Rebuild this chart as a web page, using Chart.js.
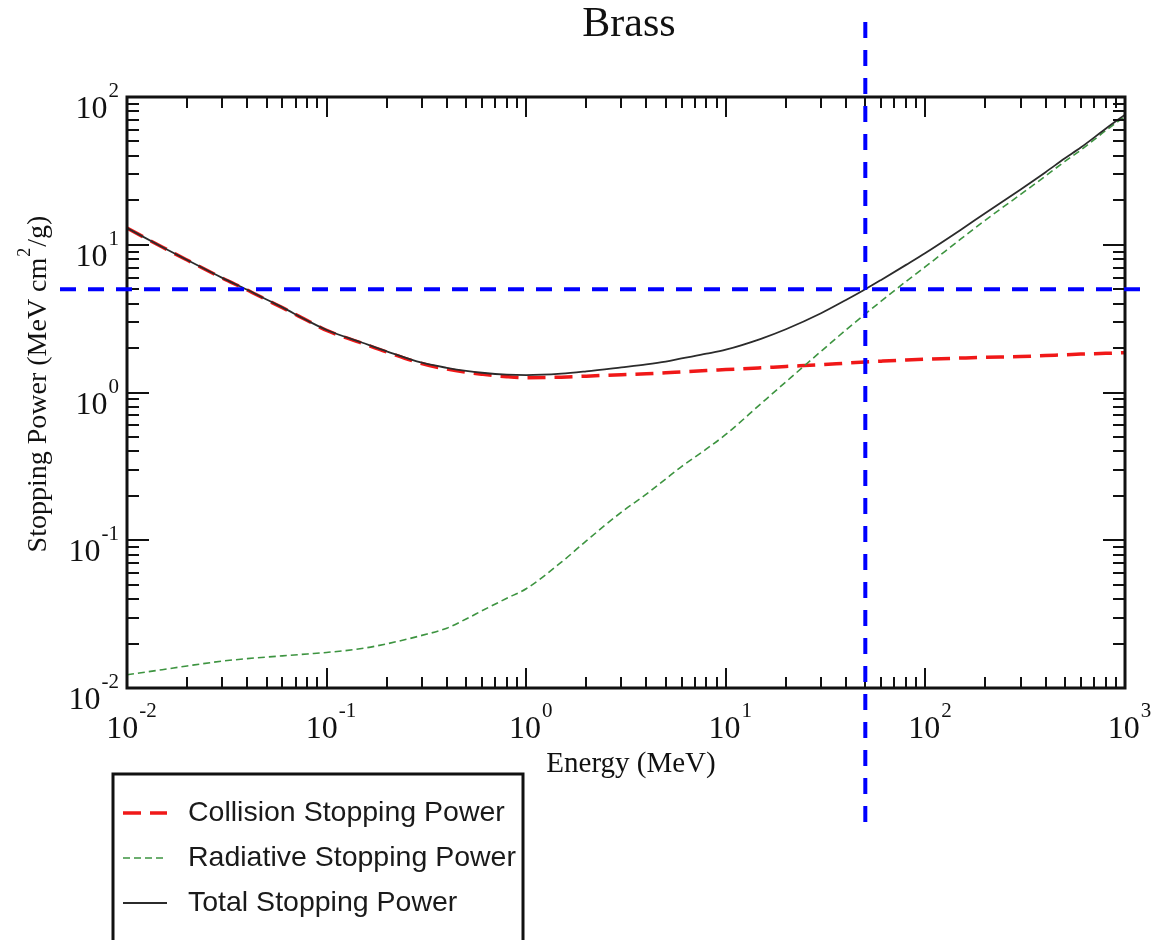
<!DOCTYPE html>
<html>
<head>
<meta charset="utf-8">
<script src="https://cdn.jsdelivr.net/npm/chart.js@4/dist/chart.umd.min.js"></script>
<style>
  body { margin:0; background:#fff; }
  canvas { display:block; }
</style>
</head>
<body>
<canvas id="spChart" width="1151" height="940"></canvas>
<script>
// energies (MeV) and stopping powers (MeV cm2/g)
const energy = [0.01,0.015,0.02,0.03,0.04,0.05,0.06,0.08,0.1,0.15,0.2,0.3,0.4,0.5,0.6,0.8,
    1,1.5,2,3,4,5,6,8,10,15,20,30,40,50,60,80,100,150,200,300,400,500,600,800,1000];
const collision = [12.97,9.65,7.88,5.95,4.94,4.24,3.75,3.07,2.63,2.16,1.88,1.57,1.44,1.37,1.33,1.28,
    1.26,1.27,1.29,1.32,1.34,1.36,1.38,1.41,1.43,1.47,1.50,1.54,1.58,1.61,1.63,1.66,1.68,1.71,1.73,1.75,1.78,1.80,1.82,1.84,1.86];
const radiative = [0.0123,0.0133,0.0141,0.0152,0.0158,0.0162,0.0165,0.0170,0.0174,0.0185,0.0199,0.0227,0.0254,0.0293,0.0333,0.0405,
    0.047,0.071,0.099,0.155,0.205,0.26,0.315,0.415,0.52,0.84,1.18,1.9,2.65,3.4,4.15,5.65,7.1,10.9,14.7,21.9,29.2,36.7,43.7,59.2,74.1];
const total = [12.98,9.66,7.89,5.97,4.96,4.26,3.77,3.07,2.65,2.18,1.90,1.59,1.47,1.40,1.36,1.32,
    1.31,1.34,1.39,1.48,1.55,1.62,1.70,1.83,1.95,2.31,2.68,3.44,4.23,5.0,5.78,7.31,8.8,12.6,16.4,23.7,31.0,38.5,45.5,61,76];

const xDecades = [-2,-1,0,1,2,3];
const yDecades = [-2,-1,0,1,2];
const markerEnergy = 50;   // blue vertical guide
const markerStopping = 5;  // blue horizontal guide

const seriesNames = ['Collision Stopping Power','Radiative Stopping Power','Total Stopping Power'];

const pts = arr => arr.map((v,i)=>({x:energy[i], y:v}));

const SERIF = '"Liberation Serif", "Times New Roman", serif';
const SANS = '"Liberation Sans", Arial, sans-serif';

function drawPow(ctx, exp, x, baseY, align, sz){
    // "10" with a raised exponent
    ctx.font = sz+'px '+SERIF;
    const w1 = ctx.measureText('10').width;
    const supSz = Math.round(sz*0.65);
    ctx.font = supSz+'px '+SERIF;
    const w2 = ctx.measureText(String(exp)).width;
    let left = x;
    if(align==='center') left = x - (w1+w2)/2;
    else if(align==='right') left = x - (w1+w2);
    ctx.textAlign = 'left';
    ctx.textBaseline = 'alphabetic';
    ctx.font = sz+'px '+SERIF;
    ctx.fillText('10', left, baseY);
    ctx.font = supSz+'px '+SERIF;
    ctx.fillText(String(exp), left+w1+1, baseY-21);
}

const decorations = {
    id:'decorations',
    afterDatasetsDraw(chart){
        const ctx = chart.ctx, a = chart.chartArea;
        const xs = chart.scales.x, ys = chart.scales.y;
        ctx.save();
        ctx.fillStyle = '#111';
        ctx.strokeStyle = '#111';

        // inward ticks on all four sides
        ctx.lineWidth = 2;
        ctx.beginPath();
        for(let d=-2; d<3; d++){
            for(let m=1; m<10; m++){
                const px = Math.round(xs.getPixelForValue(m*Math.pow(10,d)));
                const len = m===1 ? 20 : 11;
                ctx.moveTo(px, a.bottom); ctx.lineTo(px, a.bottom-len);
                ctx.moveTo(px, a.top); ctx.lineTo(px, a.top+len);
            }
        }
        for(let d=-2; d<2; d++){
            for(let m=1; m<10; m++){
                const py = Math.round(ys.getPixelForValue(m*Math.pow(10,d)));
                const len = m===1 ? 22 : 12;
                ctx.moveTo(a.left, py); ctx.lineTo(a.left+len, py);
                ctx.moveTo(a.right, py); ctx.lineTo(a.right-len, py);
            }
        }
        ctx.stroke();

        // frame
        ctx.lineWidth = 3;
        ctx.strokeRect(a.left, a.top, a.right-a.left, a.bottom-a.top);

        // tick labels
        xDecades.forEach(d=>{
            const px = xs.getPixelForValue(Math.pow(10,d));
            drawPow(ctx, d, px+4, a.bottom+50, 'center', 32);
        });
        yDecades.forEach(d=>{
            const py = ys.getPixelForValue(Math.pow(10,d));
            drawPow(ctx, d, a.left-9, py+21, 'right', 32);
        });

        // axis titles
        ctx.textAlign = 'center';
        ctx.textBaseline = 'middle';
        ctx.font = '29px '+SERIF;
        ctx.fillText('Energy (MeV)', (a.left+a.right)/2 + 5, a.bottom+76);

        ctx.save();
        ctx.translate(36, 385);
        ctx.rotate(-Math.PI/2);
        const parts = ['Stopping Power (MeV cm', '2', '/g)'];
        ctx.font = '28px '+SERIF;
        const wA = ctx.measureText(parts[0]).width, wC = ctx.measureText(parts[2]).width;
        ctx.font = '18px '+SERIF;
        const wB = ctx.measureText(parts[1]).width;
        let sx = -(wA+wB+wC)/2;
        ctx.textAlign = 'left';
        ctx.textBaseline = 'alphabetic';
        ctx.font = '28px '+SERIF;
        ctx.fillText(parts[0], sx, 10);
        ctx.font = '18px '+SERIF;
        ctx.fillText(parts[1], sx+wA+1, -6);
        ctx.font = '28px '+SERIF;
        ctx.fillText(parts[2], sx+wA+wB+2, 10);
        ctx.restore();

        // title
        ctx.textAlign = 'center';
        ctx.textBaseline = 'alphabetic';
        ctx.font = '42px '+SERIF;
        ctx.fillText('Brass', 629, 36);

        // legend box
        ctx.lineWidth = 3;
        ctx.strokeStyle = '#111';
        ctx.strokeRect(113, 774, 410, 180);
        chart.data.datasets.forEach((ds,i)=>{
            const y = 813 + i*45;
            ctx.beginPath();
            ctx.strokeStyle = ds.borderColor;
            ctx.lineWidth = ds.borderWidth;
            ctx.setLineDash(ds.borderDash || []);
            ctx.moveTo(123, y); ctx.lineTo(167, y);
            ctx.stroke();
            ctx.setLineDash([]);
            ctx.fillStyle = '#1a1a1a';
            ctx.font = '28.5px '+SANS;
            ctx.textAlign = 'left';
            ctx.textBaseline = 'middle';
            ctx.fillText(ds.label, 188, y);
        });

        // blue guide lines
        const gx = xs.getPixelForValue(markerEnergy);
        const gy = ys.getPixelForValue(markerStopping);
        ctx.strokeStyle = '#0000ff';
        ctx.lineWidth = 4;
        ctx.setLineDash([16,12]);
        ctx.beginPath();
        ctx.moveTo(gx, 22); ctx.lineTo(gx, 822);
        ctx.stroke();
        ctx.beginPath();
        ctx.moveTo(60, gy); ctx.lineTo(1151, gy);
        ctx.stroke();
        ctx.restore();
    }
};

new Chart(document.getElementById('spChart'), {
    type:'line',
    data:{datasets:[
        {label:seriesNames[0], data:pts(collision), borderColor:'#f01818', borderWidth:3.5, borderDash:[18,9], pointRadius:0, fill:false, cubicInterpolationMode:'monotone', order:2},
        {label:seriesNames[1], data:pts(radiative), borderColor:'#3d9440', borderWidth:1.6, borderDash:[7,4], pointRadius:0, fill:false, cubicInterpolationMode:'monotone', order:1},
        {label:seriesNames[2], data:pts(total), borderColor:'#2b2b2b', borderWidth:1.8, pointRadius:0, fill:false, cubicInterpolationMode:'monotone', order:0}
    ]},
    options:{
        responsive:false,
        animation:false,
        layout:{padding:{left:127, top:97, right:26, bottom:252}},
        plugins:{legend:{display:false}, title:{display:false}, tooltip:{enabled:false}},
        scales:{
            x:{type:'logarithmic', min:0.01, max:1000, display:false},
            y:{type:'logarithmic', min:0.01, max:100, display:false}
        }
    },
    plugins:[decorations]
});
</script>
</body>
</html>
